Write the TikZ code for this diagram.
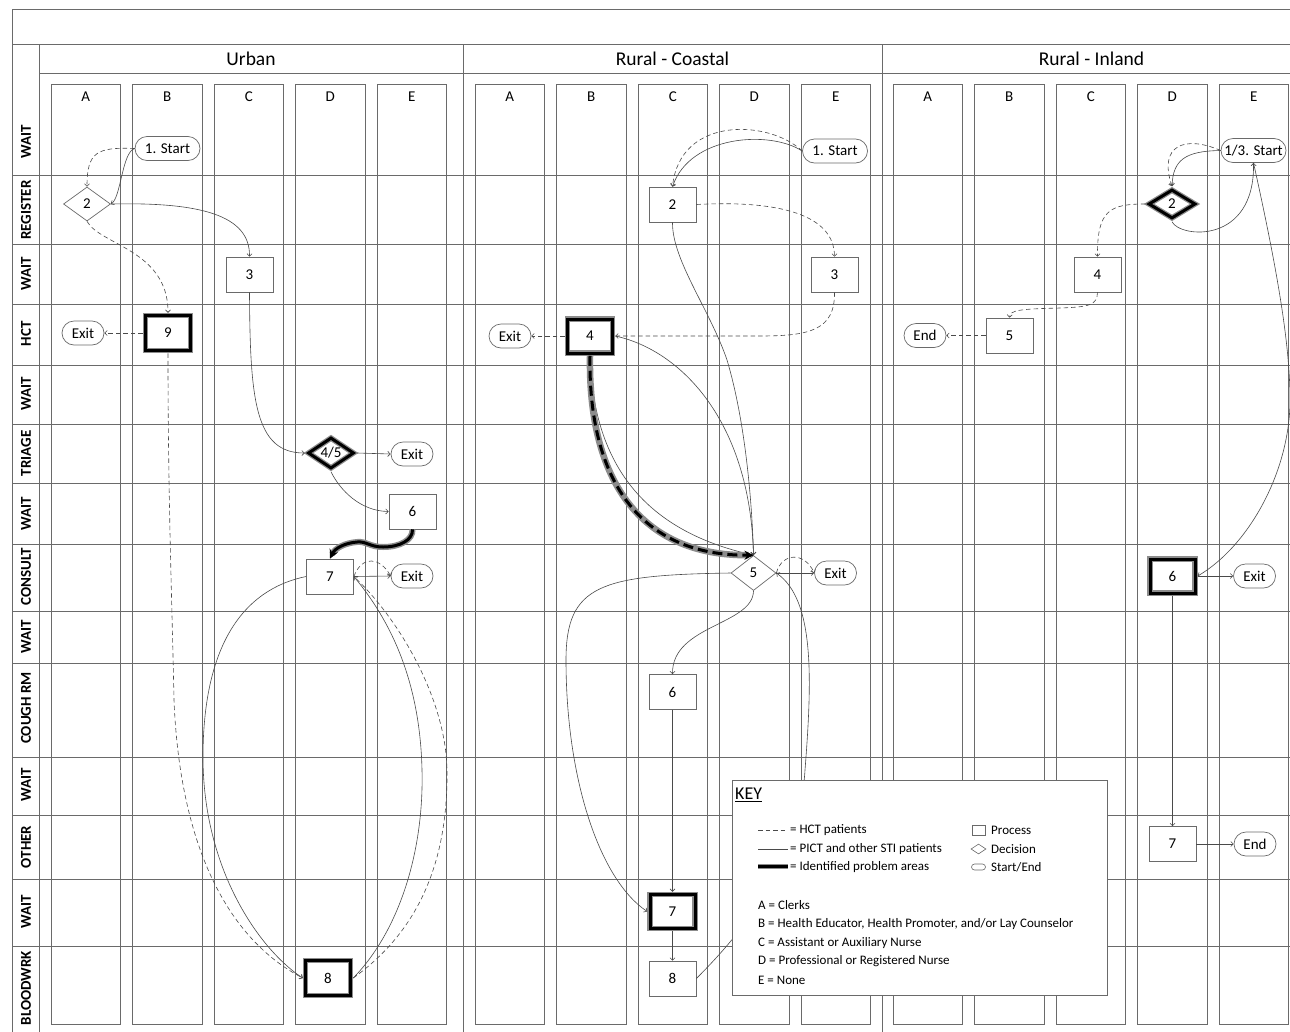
\documentclass[tikz,border=0pt]{standalone}
\usepackage{fontspec}
\setmainfont{Carlito}
\usetikzlibrary{shapes.geometric,shapes.misc,arrows.meta}
\definecolor{gridc}{HTML}{6A6A6A}
\definecolor{linec}{HTML}{4A4A4A}
\definecolor{probgray}{HTML}{8C8C8C}
\tikzset{
 gridline/.style={draw=gridc, line width=0.7pt},
 lane/.style={draw=gridc, line width=0.7pt},
 base/.style={font=\fontsize{15}{17}\selectfont, text=black, inner sep=1pt},
 proc/.style={base, rectangle, draw=gridc, line width=0.7pt, fill=white, minimum width=47pt, minimum height=35pt},
 dec/.style={base, diamond, draw=gridc, line width=0.7pt, fill=white, minimum width=47pt, minimum height=34pt, inner sep=0pt},
 term/.style={base, rounded rectangle, draw=gridc, line width=0.7pt, fill=white, minimum width=46pt, minimum height=24pt, inner xsep=2pt},
 prob/.style={draw=probgray, line width=5.5pt, postaction={draw=black, line width=3pt}},
 hct/.style={draw=linec, line width=0.6pt, dash pattern=on 4.5pt off 3pt},
 pict/.style={draw=linec, line width=0.6pt},
 arr/.style={-{Straight Barb[length=2.5pt,width=5pt]}},
 parr/.style={-{Stealth[length=9pt,width=9pt]}},
 probline/.style={draw=black, line width=3pt, preaction={draw=probgray, line width=6pt, -, shorten >=5pt}},
 probdash/.style={draw=black, line width=3pt, dash pattern=on 10pt off 5pt, preaction={draw=probgray, line width=6.5pt, solid, -, shorten >=5pt}},
 rowlab/.style={font=\bfseries\fontsize{15}{17}\selectfont, rotate=90, inner sep=0pt},
 colhead/.style={font=\fontsize{15}{17}\selectfont, inner sep=0pt},
 sechead/.style={font=\fontsize{19.5}{21}\selectfont, inner sep=0pt},
 keyt/.style={font=\fontsize{13}{15}\selectfont, anchor=west, inner sep=0pt},
}
\begin{document}
\begin{tikzpicture}[x=1pt,y=-1pt]
\fill[white] (0,0) rectangle (1290,1031);
\useasboundingbox (0,0) rectangle (1290,1031);
% ---------- grid ----------
\draw[gridline] (12,9.5) -- (1300,9.5);
\draw[gridline] (12,9.5) -- (12,1040);
\draw[gridline] (12,44) -- (1300,44);
\draw[gridline] (39.5,73) -- (1300,73);
\draw[gridline] (39.5,44) -- (39.5,1040);
\draw[gridline] (463,44) -- (463,1040);
\draw[gridline] (882,44) -- (882,1040);
\foreach \y in {175,244,304,365,424,483,544,611,663,757,815,879,946}
  \draw[gridline] (12,\y) -- (1300,\y);
\foreach \sx/\sn in {51/u,475/c,893/i} {
  \foreach \L [count=\k from 0] in {A,B,C,D,E} {
    \pgfmathsetmacro{\lx}{\sx+81.5*\k}
    \draw[lane] (\lx,84) rectangle ({\lx+69.5},1024);
    \node[colhead] (\sn col\L) at ({\lx+34.75},96.5) {\L};
  }
}
\node[sechead] (hU) at (251,58.5) {Urban};
\node[sechead] (hC) at (672.5,58.5) {Rural - Coastal};
\node[sechead] (hI) at (1091.5,58.5) {Rural - Inland};
\node[rowlab] (r1) at (26,142) {WAIT};
\node[rowlab] (r2) at (26,210) {REGISTER};
\node[rowlab] (r3) at (26,274) {WAIT};
\node[rowlab] (r4) at (26,334) {HCT};
\node[rowlab] (r5) at (26,394) {WAIT};
\node[rowlab] (r6) at (26,453.5) {TRIAGE};
\node[rowlab] (r7) at (26,514) {WAIT};
\node[rowlab] (r8) at (26,577) {CONSULT};
\node[rowlab] (r9) at (26,637) {WAIT};
\node[rowlab] (r10) at (26,708) {COUGH RM};
\node[rowlab] (r11) at (26,785) {WAIT};
\node[rowlab] (r12) at (26,847) {OTHER};
\node[rowlab] (r13) at (26,912) {WAIT};
\node[rowlab] (r14) at (26,988) {BLOODWRK};
% ---------- Urban nodes ----------
\node[term, minimum width=69pt] (u1) at (167.5,148.5) {1. Start};
\node[dec] (u2) at (87,204) {2};
\node[proc] (u3) at (249.5,274.5) {3};
\node[proc, prob, minimum width=45pt, minimum height=35pt] (u9) at (168,333) {9};
\node[term] (uX1) at (83,333) {Exit};
\node[dec, prob, minimum width=47pt, minimum height=32pt] (u45) at (331,453) {4/5};
\node[term] (uX2) at (412,454) {Exit};
\node[proc] (u6) at (412.5,511.5) {6};
\node[proc] (u7) at (330,576.5) {7};
\node[term] (uX3) at (412,576) {Exit};
\node[proc, prob, minimum width=45pt, minimum height=35pt] (u8) at (328,978) {8};
% ---------- Coastal nodes ----------
\node[term, minimum width=69pt] (c1) at (835,151) {1. Start};
\node[proc] (c2) at (672.5,204.5) {2};
\node[proc] (c3) at (834.5,274.5) {3};
\node[proc, prob, minimum width=45pt, minimum height=34pt] (c4) at (590,336) {4};
\node[term] (cX1) at (510,336) {Exit};
\node[dec, minimum width=45pt, minimum height=35pt] (c5) at (753.5,573) {5};
\node[term] (cX2) at (835.5,573) {Exit};
\node[proc] (c6) at (672.5,692) {6};
\node[proc, prob, minimum width=45pt, minimum height=34pt] (c7) at (672.5,911.5) {7};
\node[proc] (c8) at (672.5,978.5) {8};
% ---------- Inland nodes ----------
\node[term, minimum width=69pt] (i1) at (1253.5,150.5) {1/3. Start};
\node[dec, prob, minimum width=48pt, minimum height=30pt] (i2) at (1172,204) {2};
\node[proc] (i4) at (1097.5,274.5) {4};
\node[proc] (i5) at (1009.5,335.5) {5};
\node[term] (iE1) at (925,335.5) {End};
\node[proc, prob, minimum width=45pt, minimum height=34pt] (i6) at (1172.5,576) {6};
\node[term] (iX) at (1254.5,576) {Exit};
\node[proc] (i7) at (1172.5,844) {7};
\node[term] (iE2) at (1255,844) {End};
% ---------- Urban edges ----------
\draw[hct,arr] (u1.west) .. controls (97,147) and (87,152) .. (u2.north);
\draw[pict,arr] (u1.west) .. controls (122,152) and (121,198) .. (u2.east);
\draw[pict,arr] (u2.east) .. controls (200,202) and (250,215) .. (u3.north);
\draw[hct,arr] (u2.south) .. controls (100,245) and (168,250) .. (u9.north);
\draw[hct,arr] (u9.west) -- (uX1.east);
\draw[hct,arr] (u9.south) .. controls (168,500) and (172,600) .. (174,700) .. controls (180,850) and (230,940) .. (u8.west);
\draw[pict,arr] (u3.south) .. controls (250,400) and (255,453) .. (u45.west);
\draw[pict,arr] (u45.east) -- (uX2.west);
\draw[pict,arr] (u45.south) .. controls (340,490) and (360,511) .. (u6.west);
\draw[probline,parr] (u6.south) .. controls (413,540) and (400,547) .. (383,547) .. controls (370,547) and (366,541) .. (357,542) .. controls (345,543) and (335,548) .. (u7.north);
\draw[pict,arr] (u7.east) -- (uX3.west);
\draw[hct,arr] (u7.east) .. controls (362,555) and (380,557) .. (uX3.west);
\draw[pict,arr] (u7.west) .. controls (240,590) and (203,650) .. (203,757) .. controls (203,870) and (260,950) .. (u8.west);
\draw[pict,arr] (u8.east) .. controls (400,930) and (424,850) .. (422,770) .. controls (420,680) and (390,620) .. (u7.east);
\draw[hct,arr] (u8.east) .. controls (420,930) and (448,860) .. (447,770) .. controls (446,700) and (400,620) .. (u7.east);
% ---------- Coastal edges ----------
\draw[hct,arr] (c1.west) .. controls (770,120) and (680,115) .. (c2.north);
\draw[pict,arr] (c1.west) .. controls (770,130) and (690,135) .. (c2.north);
\draw[hct,arr] (c2.east) .. controls (780,200) and (834,215) .. (c3.north);
\draw[hct,arr] (c3.south) .. controls (835,330) and (810,336) .. (760,336) -- (c4.east);
\draw[hct,arr] (c4.west) -- (cX1.east);
\draw[pict,arr] (c2.south) .. controls (672,260) and (710,310) .. (727,360) .. controls (745,420) and (752,500) .. (c5.north);
\draw[pict,arr] (c4.east) .. controls (680,350) and (750,420) .. (c5.north);
\draw[pict,arr] (c4.south) .. controls (593,460) and (640,530) .. (c5.north);
\draw[probdash,parr] (c4.south) .. controls (588,480) and (640,556) .. (c5.north);
\draw[pict,arr] (c5.east) -- (cX2.west);
\draw[hct,arr] (c5.east) .. controls (782,552) and (805,552) .. (cX2.west);
\draw[pict,arr] (c5.south) .. controls (753,625) and (672,625) .. (c6.north);
\draw[pict,arr] (c5.west) .. controls (600,575) and (566,585) .. (566,660) .. controls (566,780) and (600,880) .. (c7.west);
\draw[pict,arr] (c8.east) .. controls (760,915) and (800,850) .. (805,770) .. controls (812,680) and (815,600) .. (c5.east);
\draw[pict,arr] (c6.south) -- (c7.north);
\draw[pict,arr] (c7.south) -- (c8.north);
% ---------- Inland edges ----------
\draw[hct,arr] (i1.west) .. controls (1185,135) and (1158,145) .. (i2.north);
\draw[pict,arr] (i1.west) .. controls (1185,151) and (1173,160) .. (i2.north);
\draw[pict,arr] (i2.south) .. controls (1180,238) and (1255,245) .. (i1.south);
\draw[hct,arr] (i2.west) .. controls (1110,204) and (1097,210) .. (i4.north);
\draw[hct,arr] (i4.south) .. controls (1097,305) and (1090,307) .. (1060,308) .. controls (1020,309) and (1010,310) .. (i5.north);
\draw[hct,arr] (i5.west) -- (iE1.east);
\draw[pict,arr] (i1.south) .. controls (1275,260) and (1290,340) .. (1290,400) .. controls (1290,470) and (1250,545) .. (i6.east);
\draw[pict,arr] (i6.east) -- (iX.west);
\draw[pict,arr] (i6.south) -- (i7.north);
\draw[pict,arr] (i7.east) -- (iE2.west);
% ---------- Key ----------
\node[draw=gridc, line width=0.7pt, fill=white, minimum width=375pt, minimum height=215pt, inner sep=0pt] (key) at (919.5,887.5) {};
\node[keyt, font=\fontsize{18}{20}\selectfont] (kT) at (735,795) {\underline{KEY}};
\draw[hct] (758,830) -- (788,830);
\node[keyt] (k1) at (790,830) {= HCT patients};
\draw[pict] (758,849) -- (788,849);
\node[keyt] (k2) at (790,849) {= PICT and other STI patients};
\draw[probgray, line width=5pt] (758,866) -- (788,866);
\draw[black, line width=3pt] (758,866) -- (788,866);
\node[keyt] (k3) at (790,867) {= Identified problem areas};
\node[draw=gridc, line width=0.6pt, minimum width=13pt, minimum height=10pt, inner sep=0pt] (ks1) at (978.5,830.5) {};
\node[keyt] (k4) at (991,830) {Process};
\node[diamond, draw=gridc, line width=0.6pt, minimum width=15pt, minimum height=10pt, inner sep=0pt] (ks2) at (978.5,849) {};
\node[keyt] (k5) at (991,849) {Decision};
\node[rounded rectangle, draw=gridc, line width=0.6pt, minimum width=14pt, minimum height=6pt, inner sep=0pt] (ks3) at (978.5,867) {};
\node[keyt] (k6) at (991,867) {Start/End};
\node[keyt] (k7) at (758,905) {A = Clerks};
\node[keyt] (k8) at (758,924) {B = Health Educator, Health Promoter, and/or Lay Counselor};
\node[keyt] (k9) at (758,943) {C = Assistant or Auxiliary Nurse};
\node[keyt] (k10) at (758,961) {D = Professional or Registered Nurse};
\node[keyt] (k11) at (758,980) {E = None};
\end{tikzpicture}
\end{document}
